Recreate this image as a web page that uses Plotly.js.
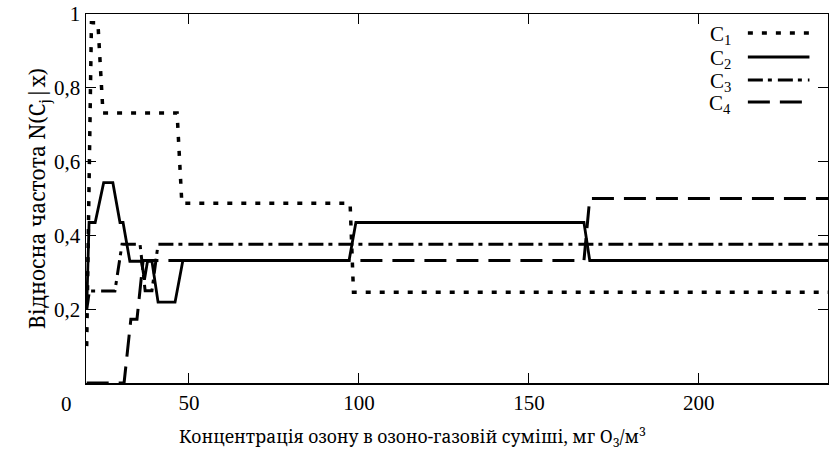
<!DOCTYPE html>
<html>
<head>
<meta charset="utf-8">
<script src="https://cdn.plot.ly/plotly-3.0.1.min.js"></script>
<style>html,body{margin:0;padding:0;background:#fff;}#chart{width:829px;height:451px;}</style>
</head>
<body>
<div id="chart"></div>
<script>
// Series data (x: ozone concentration, y: relative frequency)
const seriesNames = ['C<sub>1</sub>', 'C<sub>2</sub>', 'C<sub>3</sub>', 'C<sub>4</sub>'];
const c1x = [19.9, 21.3, 23.2, 24.7, 46.5, 47.9, 97.4, 98.4, 238];
const c1y = [0.10, 0.976, 0.976, 0.732, 0.732, 0.487, 0.487, 0.246, 0.246];
const c2x = [19.9, 20.6, 22.4, 24.9, 27.6, 29.7, 30.6, 32.6, 36.0, 36.9, 37.8, 39.1, 40.9, 45.9, 48.2, 97.1, 99.1, 166.2, 167.9, 238];
const c2y = [0.20, 0.435, 0.435, 0.543, 0.543, 0.435, 0.435, 0.330, 0.330, 0.28, 0.330, 0.330, 0.219, 0.219, 0.332, 0.332, 0.435, 0.435, 0.332, 0.332];
const c3x = [19.9, 20.7, 28.2, 30.3, 35.6, 37.1, 39.1, 40.9, 238];
const c3y = [0.20, 0.249, 0.249, 0.376, 0.376, 0.25, 0.25, 0.376, 0.376];
const c4x = [19.9, 30.9, 32.9, 34.7, 36.5, 166.2, 167.9, 238];
const c4y = [0, 0, 0.173, 0.173, 0.332, 0.332, 0.5, 0.5];
const xTickVals = [50, 100, 150, 200];
const xTickText = ['50', '100', '150', '200'];
const yTickVals = [0.2, 0.4, 0.6, 0.8, 1];
const yTickText = ['0,2', '0,4', '0,6', '0,8', '1'];

const dashes = ['5px,9px', 'solid', '15px,5px,4px,6px', '22px,10px'];
const widths = [3.5, 2.8, 3, 3];
const xs = [c1x, c2x, c3x, c4x];
const ys = [c1y, c2y, c3y, c4y];

const font = {family: 'Liberation Serif, serif', size: 21, color: '#000'};
const xTitleFont = {family: 'Noto Serif, DejaVu Serif, serif', size: 17.5, color: '#000'};
const yTitleFont = {family: 'Noto Serif, DejaVu Serif, serif', size: 21, color: '#000'};

const traces = xs.map((x, i) => ({
  x: x, y: ys[i], type: 'scatter', mode: 'lines', name: seriesNames[i],
  line: {color: '#000', width: widths[i], dash: dashes[i]}, showlegend: false
}));

// custom legend (text on the left, line sample on the right)
const legY = [0.9485, 0.8835, 0.821, 0.7615];
const shapes = legY.map((yy, i) => ({
  type: 'line', xref: 'paper', yref: 'paper', x0: 0.892, x1: 0.975, y0: yy, y1: yy,
  line: {color: '#000', width: widths[i], dash: dashes[i]}
}));
const annotations = legY.map((yy, i) => ({
  xref: 'paper', yref: 'paper', x: 0.872, y: yy - 0.005, xanchor: 'right', yanchor: 'middle',
  text: seriesNames[i], showarrow: false, font: font
}));
annotations.push({
  xref: 'paper', yref: 'paper', x: -0.026, y: -0.057, xanchor: 'center', yanchor: 'middle',
  text: '0', showarrow: false, font: font
});
annotations.push({
  xref: 'paper', yref: 'paper', x: 0.44, y: -0.145, xanchor: 'center', yanchor: 'middle',
  text: 'Концентрація озону в озоно-газовій суміші, мг O<sub>3</sub>/м<sup>3</sup>', showarrow: false, font: xTitleFont
});

const layout = {
  width: 829, height: 451,
  margin: {l: 86, r: 1, t: 14, b: 68},
  paper_bgcolor: '#fff', plot_bgcolor: '#fff',
  font: font,
  showlegend: false,
  xaxis: {
    range: [19.7, 238], tickvals: xTickVals, ticktext: xTickText,
    ticks: 'inside', ticklen: 10, tickwidth: 1, tickcolor: '#000',
    showline: true, linecolor: '#000', linewidth: 1.5, mirror: 'ticks',
    showgrid: false, zeroline: false, tickfont: font
  },
  yaxis: {
    range: [0, 1], tickvals: yTickVals, ticktext: yTickText,
    ticks: 'inside', ticklen: 10, tickwidth: 1, tickcolor: '#000',
    showline: true, linecolor: '#000', linewidth: 1.5, mirror: 'ticks',
    showgrid: false, zeroline: false, tickfont: font,
    title: {text: 'Відносна частота N(C<sub>j</sub>|x)', font: yTitleFont, standoff: 2}
  },
  shapes: shapes,
  annotations: annotations
};

Plotly.newPlot('chart', traces, layout, {displayModeBar: false, staticPlot: true});
</script>
</body>
</html>
